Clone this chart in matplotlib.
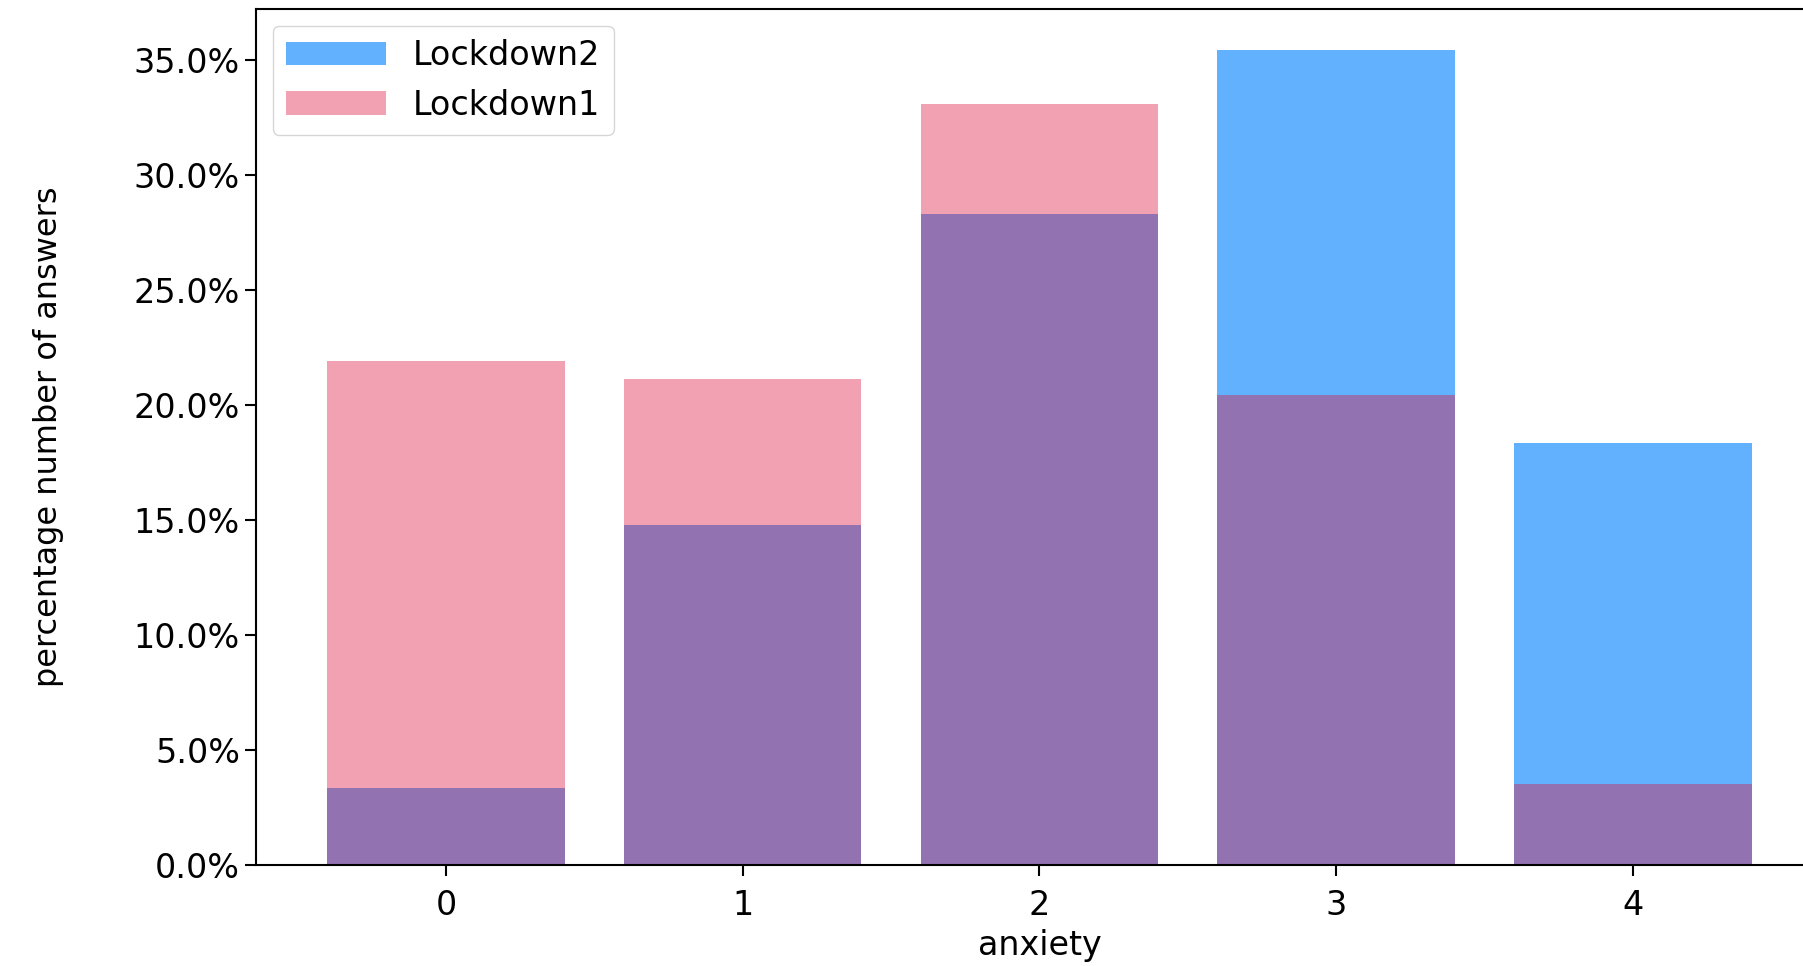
import matplotlib.pyplot as plt
import numpy as np
from matplotlib.ticker import PercentFormatter

# anxiety levels and share of answers (in %) for each lockdown
levels = [0, 1, 2, 3, 4]
lockdown2 = [3.34, 14.8, 28.3, 35.44, 18.35]
lockdown1 = [21.93, 21.14, 33.1, 20.44, 3.54]

fig = plt.figure(figsize=(18.03, 9.66), dpi=100)
ax = fig.add_axes([0.142, 0.1046, 0.869, 0.886])

ax.bar(levels, lockdown2, width=0.8, color="dodgerblue", alpha=0.7, label="Lockdown2")
ax.bar(levels, lockdown1, width=0.8, color="crimson", alpha=0.4, label="Lockdown1")

ax.yaxis.set_major_formatter(PercentFormatter(decimals=1))
ax.set_xticks(levels)
ax.tick_params(labelsize=24, length=8, width=1.5)
ax.tick_params(axis="x", pad=9)
for s in ax.spines.values():
    s.set_linewidth(1.5)

ax.set_xlabel("anxiety", fontsize=24, labelpad=5)
ax.set_ylabel("percentage number of answers", fontsize=23, labelpad=50)
ax.legend(loc="upper left", fontsize=24, handlelength=3.0, borderaxespad=0.5)

fig.savefig("out.png", dpi=100)
